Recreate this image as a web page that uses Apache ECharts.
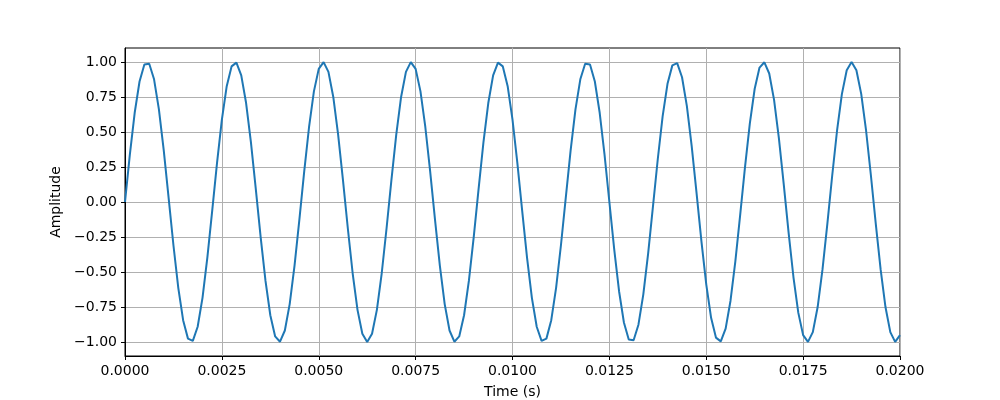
<!DOCTYPE html>
<html>
<head>
<meta charset="utf-8">
<script src="https://cdn.jsdelivr.net/npm/echarts@6/dist/echarts.min.js"></script>
<style>html,body{margin:0;padding:0;background:#fff}#c{width:1000px;height:400px}</style>
</head>
<body>
<div id="c"></div>
<script>
// Sample times (s), 8000 samples/s
const sampleStep = 0.000125;
const amplitude = [
 0, 0.3387, 0.6374, 0.8607, 0.9823, 0.9877, 0.8763, 0.6613, 0.3681, 0.0314,
 -0.3090, -0.6129, -0.8443, -0.9759, -0.9921, -0.8910, -0.6845, -0.3971, -0.0628, 0.2790,
 0.5878, 0.8271, 0.9686, 0.9956, 0.9048, 0.7071, 0.4258, 0.0941, -0.2487, -0.5621,
 -0.8090, -0.9603, -0.9980, -0.9178, -0.7290, -0.4540, -0.1253, 0.2181, 0.5358, 0.7902,
 0.9511, 0.9995, 0.9298, 0.7501, 0.4818, 0.1564, -0.1874, -0.5090, -0.7705, -0.9409,
 -1.0, -0.9409, -0.7705, -0.5090, -0.1874, 0.1564, 0.4818, 0.7501, 0.9298, 0.9995,
 0.9511, 0.7902, 0.5358, 0.2181, -0.1253, -0.4540, -0.7290, -0.9178, -0.9980, -0.9603,
 -0.8090, -0.5621, -0.2487, 0.0941, 0.4258, 0.7071, 0.9048, 0.9956, 0.9686, 0.8271,
 0.5878, 0.2790, -0.0628, -0.3971, -0.6845, -0.8910, -0.9921, -0.9759, -0.8443, -0.6129,
 -0.3090, 0.0314, 0.3681, 0.6613, 0.8763, 0.9877, 0.9823, 0.8607, 0.6374, 0.3387,
 0.0, -0.3387, -0.6374, -0.8607, -0.9823, -0.9877, -0.8763, -0.6613, -0.3681, -0.0314,
 0.3090, 0.6129, 0.8443, 0.9759, 0.9921, 0.8910, 0.6845, 0.3971, 0.0628, -0.2790,
 -0.5878, -0.8271, -0.9686, -0.9956, -0.9048, -0.7071, -0.4258, -0.0941, 0.2487, 0.5621,
 0.8090, 0.9603, 0.9980, 0.9178, 0.7290, 0.4540, 0.1253, -0.2181, -0.5358, -0.7902,
 -0.9511, -0.9995, -0.9298, -0.7501, -0.4818, -0.1564, 0.1874, 0.5090, 0.7705, 0.9409,
 1.0, 0.9409, 0.7705, 0.5090, 0.1874, -0.1564, -0.4818, -0.7501, -0.9298, -0.9995,
 -0.9511
];
const xTicks = [0, 0.0025, 0.005, 0.0075, 0.01, 0.0125, 0.015, 0.0175, 0.02];
const yTicks = [-1.0, -0.75, -0.5, -0.25, 0, 0.25, 0.5, 0.75, 1.0];
const xTitle = 'Time (s)';
const yTitle = 'Amplitude';

const points = amplitude.map((v, i) => [i * sampleStep, v]);
const font = 'DejaVu Sans';
const chart = echarts.init(document.getElementById('c'), null, {renderer: 'canvas'});
chart.setOption({
  animation: false,
  grid: [
    {left: 125, right: 100, top: 48, height: 308, show: true, borderColor: '#000', borderWidth: 1,
     backgroundColor: 'transparent', containLabel: false, outerBoundsMode: 'none'},
    {left: 125, right: 100, top: 62, height: 280, containLabel: false, outerBoundsMode: 'none'}
  ],
  xAxis: [
    {type: 'value', gridIndex: 0, min: xTicks[0], max: xTicks[xTicks.length - 1], interval: 0.0025,
     position: 'bottom',
     name: xTitle, nameLocation: 'middle', nameGap: 29,
     nameTextStyle: {color: '#000', fontFamily: font, fontSize: 14},
     axisLine: {show: true, onZero: false, lineStyle: {color: '#000', width: 1}},
     axisTick: {show: true, length: 4, lineStyle: {color: '#000'}},
     axisLabel: {color: '#000', fontFamily: font, fontSize: 14, margin: 8, formatter: v => v.toFixed(4)},
     splitLine: {show: true, lineStyle: {color: '#b0b0b0', width: 1}}},
    {type: 'value', gridIndex: 1, min: 0, max: 1, show: false,
     axisLine: {show: false, onZero: false}, axisTick: {show: false}, axisLabel: {show: false}, splitLine: {show: false}}
  ],
  yAxis: [
    {type: 'value', gridIndex: 0, min: -1.1, max: 1.1,
     axisLine: {show: true, onZero: false, lineStyle: {color: '#000', width: 1}},
     axisTick: {show: false}, axisLabel: {show: false}, splitLine: {show: false}},
    {type: 'value', gridIndex: 1, min: yTicks[0], max: yTicks[yTicks.length - 1], interval: 0.25,
     name: yTitle, nameLocation: 'middle', nameGap: 59,
     nameTextStyle: {color: '#000', fontFamily: font, fontSize: 14},
     axisLine: {show: false, onZero: false},
     axisTick: {show: true, length: 4, lineStyle: {color: '#000'}},
     axisLabel: {color: '#000', fontFamily: font, fontSize: 14, margin: 8,
       formatter: v => (v < 0 ? '\u2212' + Math.abs(v).toFixed(2) : v.toFixed(2))},
     splitLine: {show: true, lineStyle: {color: '#b0b0b0', width: 1}}}
  ],
  series: [{
    type: 'line', xAxisIndex: 0, yAxisIndex: 0, data: points,
    showSymbol: false, symbol: 'none', clip: true,
    lineStyle: {color: '#1f77b4', width: 2}, z: 5
  }]
});
</script>
</body>
</html>
